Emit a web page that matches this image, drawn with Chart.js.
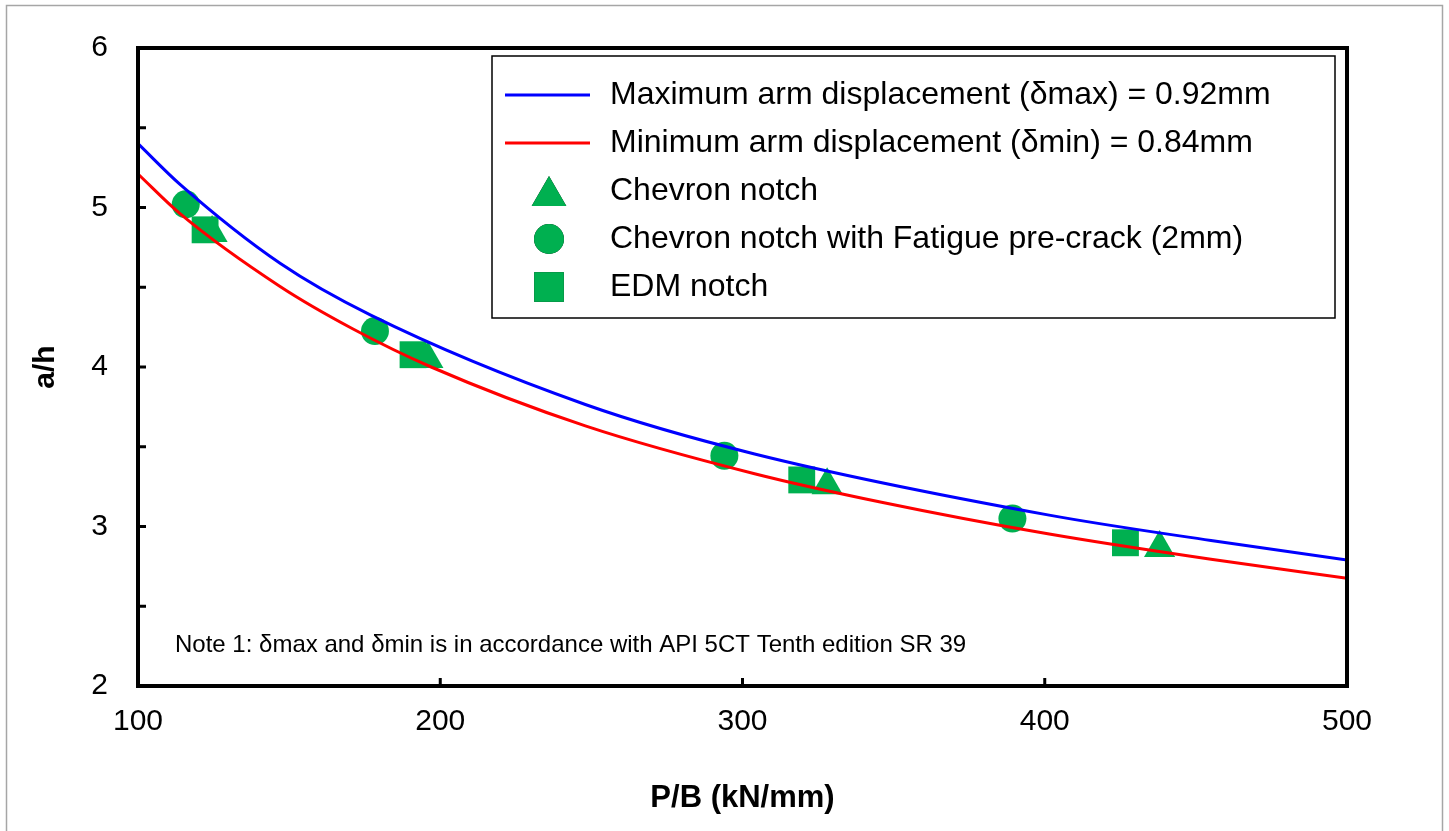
<!DOCTYPE html>
<html>
<head>
<meta charset="utf-8">
<script src="https://cdn.jsdelivr.net/npm/chart.js@4.4.1/dist/chart.umd.min.js"></script>
<style>
    body { margin: 0; background: #fff; }
    canvas { display: block; }
</style>
</head>
<body>
<canvas id="myChart" width="1449" height="831"></canvas>
<script>
// curve readings (P/B, a/h)
var maxX = [100, 114, 147, 177, 248, 304, 401, 455, 500];
var maxY = [5.40, 5.143, 4.65, 4.325, 3.765, 3.455, 3.073, 2.912, 2.79];
var minX = [100, 114, 147, 171, 197, 248, 304, 346, 401, 455, 500];
var minY = [5.21, 4.96, 4.505, 4.24, 4.00, 3.631, 3.331, 3.152, 2.954, 2.794, 2.675];

// test points
var chevronX = [124.5, 195.9, 328, 438];
var chevronY = [4.84, 4.05, 3.258, 2.865];
var fatigueX = [115.8, 178.4, 294, 389.3];
var fatigueY = [5.02, 4.225, 3.443, 3.05];
var edmX = [122.2, 191, 319.6, 426.7];
var edmY = [4.86, 4.077, 3.292, 2.898];

var xTicks = [100, 200, 300, 400, 500];
var yTicks = [2, 2.5, 3, 3.5, 4, 4.5, 5, 5.5, 6];

var labels = [
    'Maximum arm displacement (\u03b4max) = 0.92mm',
    'Minimum arm displacement (\u03b4min) = 0.84mm',
    'Chevron notch',
    'Chevron notch with Fatigue pre-crack (2mm)',
    'EDM notch'
];
var noteText = 'Note 1: \u03b4max and \u03b4min is in accordance with API 5CT Tenth edition SR 39';

var green = '#00B050';
var fontFamily = '"Liberation Sans", Arial, sans-serif';

var toPoints = (xs, ys) => xs.map((x, i) => ({ x: x, y: ys[i] }));

// frame, inward ticks, note and boxed legend
var decorations = {
    id: 'decorations',
    afterDraw(chart) {
        var ctx = chart.ctx;
        var area = chart.chartArea;
        var sx = chart.scales.x;
        var sy = chart.scales.y;
        ctx.save();

        // outer grey frame
        ctx.strokeStyle = '#a6a6a6';
        ctx.lineWidth = 1.5;
        ctx.strokeRect(6.5, 5.5, chart.width - 13, chart.height + 20);

        // plot frame
        ctx.strokeStyle = '#000';
        ctx.lineWidth = 4;
        ctx.strokeRect(area.left, area.top, area.right - area.left, area.bottom - area.top);

        // ticks pointing inward
        ctx.lineWidth = 3;
        ctx.beginPath();
        yTicks.forEach(v => {
            var py = sy.getPixelForValue(v);
            ctx.moveTo(area.left, py);
            ctx.lineTo(area.left + 8, py);
        });
        xTicks.forEach(v => {
            var px = sx.getPixelForValue(v);
            ctx.moveTo(px, area.bottom);
            ctx.lineTo(px, area.bottom - 8);
        });
        ctx.stroke();

        // note
        ctx.fillStyle = '#000';
        ctx.font = '24px ' + fontFamily;
        ctx.textAlign = 'left';
        ctx.textBaseline = 'middle';
        ctx.fillText(noteText, area.left + 37, area.bottom - 41);

        // legend box
        var bx = area.left + 354, by = area.top + 8;
        var bw = area.right - 12 - bx, bh = 262;
        ctx.fillStyle = '#fff';
        ctx.fillRect(bx, by, bw, bh);
        ctx.strokeStyle = '#000';
        ctx.lineWidth = 1.5;
        ctx.strokeRect(bx, by, bw, bh);

        ctx.font = '32px ' + fontFamily;
        chart.data.datasets.forEach((ds, i) => {
            var rowY = by + 39 + i * 48;
            var mx = bx + 57;
            if (ds.pointRadius === 0) {
                ctx.strokeStyle = ds.borderColor;
                ctx.lineWidth = 3;
                ctx.beginPath();
                ctx.moveTo(bx + 13, rowY);
                ctx.lineTo(bx + 98, rowY);
                ctx.stroke();
            } else {
                Chart.helpers.drawPoint(ctx, {
                    pointStyle: ds.pointStyle,
                    radius: ds.legendRadius,
                    rotation: 0,
                    borderWidth: 0
                }, mx, rowY + (ds.pointStyle === 'triangle' ? 5 : 0));
                ctx.fillStyle = green;
                ctx.fill();
            }
            ctx.fillStyle = '#000';
            ctx.fillText(ds.label, bx + 118, rowY);
        });
        ctx.restore();
    }
};

var ctx = document.getElementById('myChart').getContext('2d');

new Chart(ctx, {
    type: 'scatter',
    data: {
        datasets: [{
            label: labels[0],
            data: toPoints(maxX, maxY),
            showLine: true,
            borderColor: '#0000ff',
            borderWidth: 3,
            pointRadius: 0,
            cubicInterpolationMode: 'monotone'
        }, {
            label: labels[1],
            data: toPoints(minX, minY),
            showLine: true,
            borderColor: '#ff0000',
            borderWidth: 3,
            pointRadius: 0,
            cubicInterpolationMode: 'monotone'
        }, {
            label: labels[2],
            data: toPoints(chevronX, chevronY),
            pointStyle: 'triangle',
            pointRadius: 18,
            legendRadius: 20,
            backgroundColor: green,
            borderColor: green,
            borderWidth: 0
        }, {
            label: labels[3],
            data: toPoints(fatigueX, fatigueY),
            pointStyle: 'circle',
            pointRadius: 14,
            legendRadius: 15,
            backgroundColor: green,
            borderColor: green,
            borderWidth: 0
        }, {
            label: labels[4],
            data: toPoints(edmX, edmY),
            pointStyle: 'rect',
            pointRadius: 19,
            legendRadius: 21,
            backgroundColor: green,
            borderColor: green,
            borderWidth: 0
        }]
    },
    options: {
        responsive: false,
        animation: false,
        devicePixelRatio: 1,
        layout: {
            padding: { left: 0, right: 102, top: 46, bottom: 0 }
        },
        scales: {
            x: {
                type: 'linear',
                min: 100,
                max: 500,
                afterBuildTicks: scale => { scale.ticks = xTicks.map(v => ({ value: v })); },
                afterFit: scale => { scale.height = 145; },
                grid: { display: false, drawTicks: false },
                border: { display: false },
                ticks: {
                    color: '#000',
                    padding: 18,
                    maxRotation: 0,
                    font: { family: fontFamily, size: 30 }
                },
                title: {
                    display: true,
                    text: 'P/B (kN/mm)',
                    color: '#000',
                    padding: { top: 0, bottom: 14 },
                    font: { family: fontFamily, size: 31, weight: 'bold' }
                }
            },
            y: {
                type: 'linear',
                min: 2,
                max: 6,
                afterBuildTicks: scale => { scale.ticks = yTicks.filter(v => v % 1 === 0).map(v => ({ value: v })); },
                afterFit: scale => { scale.width = 138; },
                grid: { display: false, drawTicks: false },
                border: { display: false },
                ticks: {
                    color: '#000',
                    padding: 30,
                    font: { family: fontFamily, size: 30 }
                },
                title: {
                    display: true,
                    text: 'a/h',
                    color: '#000',
                    padding: { top: 28, bottom: 0 },
                    font: { family: fontFamily, size: 30, weight: 'bold' }
                }
            }
        },
        plugins: {
            legend: { display: false },
            tooltip: { enabled: false }
        }
    },
    plugins: [decorations]
});
</script>
</body>
</html>
